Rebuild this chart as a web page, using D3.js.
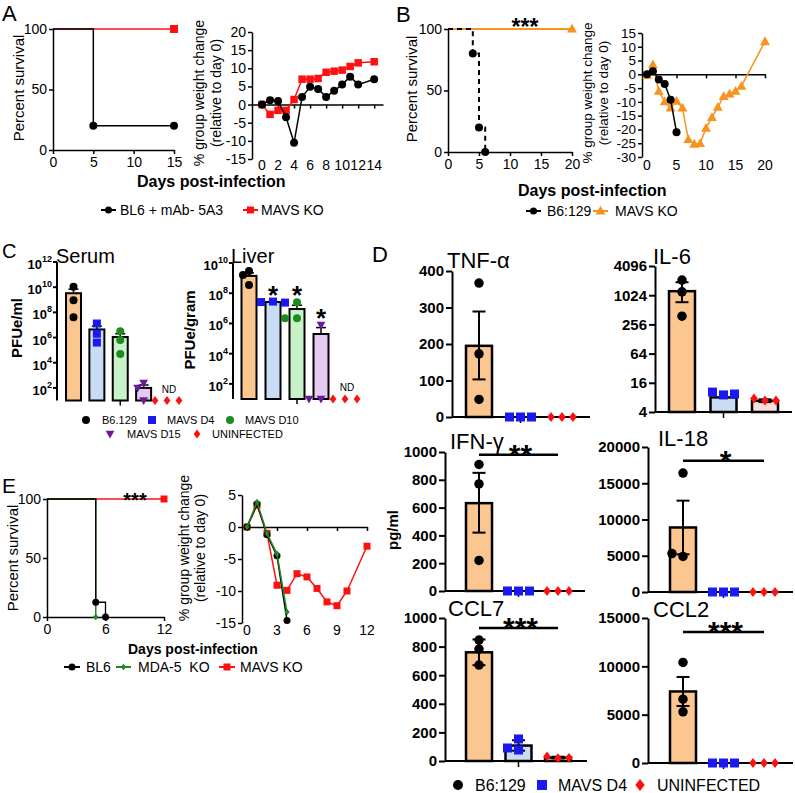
<!DOCTYPE html>
<html><head><meta charset="utf-8">
<script src="https://cdn.jsdelivr.net/npm/d3@7"></script>
<style>body{margin:0;background:#fff}svg{display:block}text{font-family:"Liberation Sans",Arial,sans-serif}</style>
</head><body><script>
// ================= DATA =================
// Panel A
const survA_bl6_days = [0, 5, 15];
const survA_bl6_pct = [100, 20, 20];
const survA_mavs_days = [0, 15];
const survA_mavs_pct = [100, 100];
const survA_ticks = [0, 5, 10, 15];
const wtA_days = [0,1,2,3,4,5,6,7,8,9,10,11,12,14];
const wtA_bl6 = [0,1.2,1.0,-3.5,-10.5,2.1,4.9,4.3,2.1,3.8,5.5,7.7,5.5,7.0];
const wtA_mavs = [0,-2.7,-1.6,-1.6,1.4,7.0,7.0,7.2,8.9,9.2,9.5,10.5,11.5,11.8];
const wtA_xticks = [0,2,4,6,8,10,12,14];
const wtA_yticks = [-15,-10,-5,0,5,10,15,20];
// Panel B
const survB_b6_days = [0, 4, 5, 6];
const survB_b6_pct = [100, 80, 20, 0];
const survB_mavs_days = [0, 20];
const survB_mavs_pct = [100, 100];
const survB_ticks = [0, 5, 10, 15, 20];
const wtB_b6_days = [0,1,2,3,4,5];
const wtB_b6 = [0,1.1,-1.9,-3.5,-9.2,-21.0];
const wtB_mavs_days = [0,1,2,3,4,5,6,7,8,9,10,11,12,13,14,15,16,20];
const wtB_mavs = [-0.3,3.5,-6.1,-9.9,-12.2,-9.7,-12.2,-23.6,-25.3,-25.1,-19.5,-15.6,-11.9,-8.0,-7.1,-6.1,-4.3,11.9];
const wtB_xticks = [0,5,10,15,20];
const wtB_yticks = [-30,-25,-20,-15,-10,-5,0,5,10,15];
// Panel C
const cGroups = ["B6.129","MAVS D4","MAVS D10","MAVS D15","UNINFECTED"];
const serumMean = [3.3e9, 4.4e6, 1.1e6, 100, null];
const serumErrHi = [7.0e9, 8.0e6, 2.0e6, 170, null];
const serumPts = [[1.1e10,9e8,4e7],[1.3e7,2e6,4e5],[3.2e6,6.3e5,5e4],[250,100,10],[10,10,10]];
const liverMean = [1.4e9, 2.6e7, 9e6, 2e5, null];
const liverErrHi = [2.2e9, 2.8e7, 1.6e7, 5.3e5, null];
const liverPts = [[3e9,1.6e9,3.5e8],[2.8e7,2.6e7,2.4e7],[2.5e7,2.2e6,2.2e6],[8e5,10,10],[10,10,10]];
const liverStars = ["", "*", "*", "*", ""];
const serumTicks = [1e2,1e4,1e6,1e8,1e10,1e12];
const liverTicks = [1e2,1e4,1e6,1e8,1e10];
// Panel D
const dGroups = ["B6:129","MAVS D4","UNINFECTED"];
const tnfMean = [195,0,0], tnfErr = [[103,289],null,null], tnfPts = [[367,173,48],[0,0,0],[0,0,0]];
const tnfTicks = [0,100,200,300,400];
const il6Mean = [1240,8,6.8], il6Err = [[734,1893],null,[6.4,7.3]], il6Pts = [[2100,1200,378],[9,10.3,9.4],[6.9,7.6,6.9]];
const il6Ticks = [4,16,64,256,1024,4096];
const ifnMean = [632,0,0], ifnErr = [[420,850],null,null], ifnPts = [[910,770,220],[0,0,0],[0,0,0]];
const ifnTicks = [0,200,400,600,800,1000];
const il18Mean = [8900,0,0], il18Err = [[5200,12600],null,null], il18Pts = [[16400,4900,5300],[0,0,0],[0,0,0]];
const il18Ticks = [0,5000,10000,15000,20000];
const ccl7Mean = [760,108,24], ccl7Err = [[670,850],[72,145],[18,30]], ccl7Pts = [[846,783,671],[154,77,91],[20,32,22]];
const ccl7Ticks = [0,200,400,600,800,1000];
const ccl2Mean = [7400,0,0], ccl2Err = [[5900,8900],null,null], ccl2Pts = [[10400,6600,5300],[0,0,0],[0,0,0]];
const ccl2Ticks = [0,5000,10000,15000];
// Panel E
const survE_bl6_days = [0, 5, 6];
const survE_bl6_pct = [100, 12.5, 0];
const survE_mda5_days = [0, 5];
const survE_mda5_pct = [100, 0];
const survE_mavs_days = [0, 12];
const survE_mavs_pct = [100, 100];
const survE_ticks = [0, 6, 12];
const wtE_mavs_days = [0,1,2,3,4,5,6,7,8,9,10,12];
const wtE_mavs = [0,3.4,-1.0,-9.1,-9.9,-7.3,-7.8,-9.6,-11.7,-12.3,-10.0,-3.0];
const wtE_ko_days = [0,1,2,3,4];
const wtE_bl6 = [0,3.6,-1.2,-4.5,-14.6];
const wtE_mda5 = [0,3.9,-1.0,-4.2,-13.3];
const wtE_xticks = [0,3,6,9,12];
const wtE_yticks = [-15,-10,-5,0,5];

// ================= COLORS =================
const RED = "#ff1010", ORANGE = "#f7931e", BLUE = "#1a1af0", GREEN = "#1f8a1f", PURPLE = "#6a1b9a", BLACK = "#000";
const cFills = ["#fbc690","#c8dcf5","#c8f3c8","#e6cbf0"];
const cColors = [BLACK, BLUE, GREEN, PURPLE, RED];
const cMarkers = ["circle","square","circle","triDown","diamond"];
const dFills = ["#fbc690","#c8dcf5","#fadcdc"];
const dColors = [BLACK, BLUE, RED];
const dMarkers = ["circle","square","diamond"];
const FONT = '"Liberation Sans", Arial, sans-serif';

const svg = d3.select("body").append("svg").attr("width",795).attr("height",793);

// ================= HELPERS =================
function styleAxis(sel, size, weight, sw) {
  sel.select(".domain").attr("stroke","#000").attr("stroke-width",sw);
  sel.selectAll(".tick line").attr("stroke","#000").attr("stroke-width",sw);
  sel.selectAll(".tick text").attr("font-size",size).attr("font-weight",weight).attr("font-family",FONT).attr("fill","#000");
}
function txt(g, x, y, s, o = {}) {
  const t = g.append("text").attr("x",x).attr("y",y).text(s)
    .attr("font-size",o.size||14).attr("font-weight",o.weight||"normal")
    .attr("text-anchor",o.anchor||"start").attr("fill",o.fill||"#000");
  if (o.rotate) t.attr("transform",`rotate(-90,${x},${y})`);
  return t;
}
function marker(g, type, cx, cy, s, color) {
  const h = s/2; let el;
  if (type === "circle") el = g.append("circle").attr("cx",cx).attr("cy",cy).attr("r",h);
  else if (type === "square") el = g.append("rect").attr("x",cx-h).attr("y",cy-h).attr("width",s).attr("height",s);
  else if (type === "triUp") el = g.append("path").attr("d",`M${cx},${cy-h*1.15}L${cx+h*1.1},${cy+h*0.8}L${cx-h*1.1},${cy+h*0.8}Z`);
  else if (type === "triDown") el = g.append("path").attr("d",`M${cx},${cy+h*1.15}L${cx+h*1.1},${cy-h*0.8}L${cx-h*1.1},${cy-h*0.8}Z`);
  else el = g.append("path").attr("d",`M${cx},${cy-h*1.1}L${cx+h*0.85},${cy}L${cx},${cy+h*1.1}L${cx-h*0.85},${cy}Z`);
  el.attr("fill",color);
  return el;
}
function legendLine(g, x1, x2, y, color, type, size) {
  g.append("line").attr("x1",x1).attr("x2",x2).attr("y1",y).attr("y2",y).attr("stroke",color).attr("stroke-width",2);
  marker(g, type, (x1+x2)/2, y, size, color);
}
function spreadX(ys, cx, step, minD) {
  const placed = [];
  return ys.map(yv => {
    for (const o of [0,-step,step,-2*step,2*step]) {
      if (placed.every(p => Math.hypot(p[0]-(cx+o), p[1]-yv) >= minD)) { placed.push([cx+o,yv]); return cx+o; }
    }
    placed.push([cx,yv]); return cx;
  });
}

function survivalPanel(cfg) {
  const g = svg.append("g");
  const x = d3.scaleLinear().domain(cfg.xDomain).range(cfg.xRange);
  const y = d3.scaleLinear().domain([0,100]).range(cfg.yRange);
  g.append("g").attr("transform",`translate(0,${cfg.yRange[0]})`)
    .call(d3.axisBottom(x).tickValues(cfg.xTicks).tickSize(4).tickSizeOuter(0).tickPadding(3))
    .call(styleAxis,14,"normal",1.5);
  g.append("g").attr("transform",`translate(${cfg.xRange[0]},0)`)
    .call(d3.axisLeft(y).tickValues([0,50,100]).tickSize(4).tickSizeOuter(0).tickPadding(2))
    .call(styleAxis,14,"normal",1.5);
  const line = d3.line().x(d=>x(d[0])).y(d=>y(d[1])).curve(d3.curveStepAfter);
  cfg.series.forEach(s => {
    const pts = s.days.map((d,i)=>[d,s.pct[i]]);
    g.append("path").attr("d",line(pts)).attr("fill","none").attr("stroke",s.color)
      .attr("stroke-width",s.sw||1.5).attr("stroke-dasharray",s.dash||null);
    pts.slice(1).forEach(p => marker(g, s.marker, x(p[0]), y(p[1]), s.size, s.color));
  });
  return g;
}

function weightPanel(cfg) {
  const g = svg.append("g");
  const x = d3.scaleLinear().domain(cfg.xDomain).range(cfg.xRange);
  const y = d3.scaleLinear().domain(cfg.yDomain).range(cfg.yRange);
  g.append("g").attr("transform",`translate(${cfg.xRange[0]},0)`)
    .call(d3.axisLeft(y).tickValues(cfg.yTicks).tickSize(4).tickSizeOuter(0).tickPadding(2).tickFormat(d=>String(d)))
    .call(styleAxis,cfg.tickSize||14,"normal",1.5);
  g.append("g").attr("transform",`translate(0,${y(0)})`)
    .call(d3.axisBottom(x).tickValues(cfg.xTicks).tickSize(4).tickSizeOuter(0).tickFormat(""))
    .call(styleAxis,14,"normal",1.5);
  cfg.xTicks.forEach(t => txt(g, x(t), cfg.yRange[0]+cfg.labelDy, String(t), {anchor:"middle", size:14}));
  const line = d3.line().x(d=>x(d[0])).y(d=>y(d[1]));
  cfg.series.forEach(s => {
    const pts = s.days.map((d,i)=>[d,s.vals[i]]);
    g.append("path").attr("d",line(pts)).attr("fill","none").attr("stroke",s.color).attr("stroke-width",1.5);
    pts.forEach(p => marker(g, s.marker, x(p[0]), y(p[1]), s.size, s.color));
  });
  return g;
}

function pfuPanel(cfg) {
  const g = svg.append("g");
  const y = d3.scaleLog().domain(cfg.yDomain).range(cfg.yRange);
  const x = d3.scalePoint().domain(cGroups).range(cfg.xRange);
  const ax = cfg.axisX, y0 = cfg.yRange[0];
  g.append("line").attr("x1",ax).attr("x2",ax).attr("y1",y0).attr("y2",cfg.yRange[1]).attr("stroke","#000").attr("stroke-width",2);
  cfg.ticks.forEach(v => {
    const ty = y(v);
    g.append("line").attr("x1",ax-4).attr("x2",ax).attr("y1",ty).attr("y2",ty).attr("stroke","#000").attr("stroke-width",2);
    const t = g.append("text").attr("x",ax-5).attr("y",ty+7).attr("text-anchor","end").attr("font-size",13).attr("font-weight","bold");
    t.append("tspan").text("10");
    t.append("tspan").attr("dy",-7).attr("font-size",9).text(String(Math.round(Math.log10(v))));
  });
  g.append("line").attr("x1",x(cGroups[2])).attr("x2",x(cGroups[2])).attr("y1",y0).attr("y2",y0+5).attr("stroke","#000").attr("stroke-width",1.5);
  cfg.mean.forEach((m,i) => {
    if (m == null) return;
    const cx = x(cGroups[i]);
    g.append("rect").attr("x",cx-7.5).attr("y",y(m)).attr("width",15).attr("height",y0-y(m))
      .attr("fill",cFills[i]).attr("stroke","#000").attr("stroke-width",2);
  });
  cfg.errHi.forEach((e,i) => {
    if (e == null) return;
    const cx = x(cGroups[i]);
    g.append("line").attr("x1",cx).attr("x2",cx).attr("y1",y(cfg.mean[i])).attr("y2",y(e)).attr("stroke","#000").attr("stroke-width",1.5);
    g.append("line").attr("x1",cx-5).attr("x2",cx+5).attr("y1",y(e)).attr("y2",y(e)).attr("stroke","#000").attr("stroke-width",1.5);
  });
  cfg.pts.forEach((arr,i) => {
    const cx = x(cGroups[i]);
    const ys = arr.map(v => y(v));
    const xs = spreadX(ys, cx, 6, 7);
    ys.forEach((yy,j) => marker(g, cMarkers[i], xs[j], yy, 8, cColors[i]));
  });
  txt(g, x(cGroups[4])+2, y0-8, "ND", {anchor:"middle", size:10});
  if (cfg.stars) cfg.stars.forEach((s,i) => {
    if (!s) return;
    const top = Math.max(...cfg.pts[i]);
    txt(g, x(cGroups[i]), y(top)+2, s, {anchor:"middle", size:26, weight:"bold"});
  });
  txt(g, cfg.titleX, cfg.titleY, cfg.title, {size:20});
  txt(g, cfg.labelX, cfg.labelY, cfg.label, {size:15, weight:"bold", anchor:"middle", rotate:true});
  return g;
}

function cytoPanel(cfg) {
  const g = svg.append("g");
  const y = cfg.log ? d3.scaleLog().base(2).domain(cfg.yDomain).range(cfg.yRange)
                    : d3.scaleLinear().domain(cfg.yDomain).range(cfg.yRange);
  const x = d3.scalePoint().domain(dGroups).range(cfg.xRange);
  const y0 = cfg.yRange[0];
  g.append("g").attr("transform",`translate(${cfg.axisX},0)`)
    .call(d3.axisLeft(y).tickValues(cfg.ticks).tickSize(6).tickSizeOuter(0).tickPadding(2).tickFormat(d=>String(d)))
    .call(styleAxis,15,"bold",2);
  g.append("line").attr("x1",cfg.axisX).attr("x2",cfg.xEnd).attr("y1",y0).attr("y2",y0).attr("stroke","#000").attr("stroke-width",2);
  g.append("line").attr("x1",x(dGroups[1])).attr("x2",x(dGroups[1])).attr("y1",y0).attr("y2",y0+6).attr("stroke","#000").attr("stroke-width",1.5);
  cfg.mean.forEach((m,i) => {
    const cx = x(dGroups[i]);
    g.append("rect").attr("x",cx-13).attr("y",y(m)).attr("width",26).attr("height",Math.max(0,y0-y(m)))
      .attr("fill",dFills[i]).attr("stroke","#000").attr("stroke-width",2.5);
  });
  cfg.err.forEach((e,i) => {
    if (!e) return;
    const cx = x(dGroups[i]);
    g.append("line").attr("x1",cx).attr("x2",cx).attr("y1",y(e[0])).attr("y2",y(e[1])).attr("stroke","#000").attr("stroke-width",2);
    e.forEach(v => g.append("line").attr("x1",cx-6.5).attr("x2",cx+6.5).attr("y1",y(v)).attr("y2",y(v)).attr("stroke","#000").attr("stroke-width",2));
  });
  cfg.pts.forEach((arr,i) => {
    const cx = x(dGroups[i]);
    const ys = arr.map(v => y(v));
    const xs = spreadX(ys, cx, 11, 9);
    ys.forEach((yy,j) => marker(g, dMarkers[i], xs[j], yy, i===0 ? 9.5 : 9, dColors[i]));
  });
  txt(g, cfg.titleX, cfg.titleY, cfg.title, {size:22});
  if (cfg.sig) {
    const sy = y(cfg.sig.at);
    g.append("line").attr("x1",x(dGroups[0])).attr("x2",x(dGroups[2])).attr("y1",sy).attr("y2",sy).attr("stroke","#000").attr("stroke-width",2.5);
    txt(g, (x(dGroups[0])+x(dGroups[2]))/2 + 2, sy + 10, cfg.sig.text, {anchor:"middle", size:30, weight:"bold"});
  }
  return g;
}

// ================= PANEL A =================
txt(svg, 2, 21, "A", {size:22});
survivalPanel({xDomain:[0,15], xRange:[53,174], yRange:[150,29], xTicks:survA_ticks,
  series:[
    {days:survA_mavs_days, pct:survA_mavs_pct, color:RED, marker:"square", size:8},
    {days:survA_bl6_days, pct:survA_bl6_pct, color:BLACK, marker:"circle", size:8}
  ]});
txt(svg, 24, 88, "Percent survival", {size:15, anchor:"middle", rotate:true});
weightPanel({xDomain:[-1.25,15.1], xRange:[252,383], yDomain:[-15,20], yRange:[159,32], yTicks:wtA_yticks, xTicks:wtA_xticks, labelDy:11,
  series:[
    {days:wtA_days, vals:wtA_mavs, color:RED, marker:"square", size:7.5},
    {days:wtA_days, vals:wtA_bl6, color:BLACK, marker:"circle", size:8}
  ]});
txt(svg, 204, 93, "% group weight change", {size:14, anchor:"middle", rotate:true});
txt(svg, 221, 93, "(relative to day 0)", {size:14, anchor:"middle", rotate:true});
txt(svg, 137, 187, "Days post-infection", {size:16, weight:"bold"});
legendLine(svg, 101, 116, 210, BLACK, "circle", 7);
txt(svg, 120, 215, "BL6 + mAb- 5A3", {size:14});
legendLine(svg, 243, 258, 210, RED, "square", 7);
txt(svg, 261, 215, "MAVS KO", {size:14});

// ================= PANEL B =================
txt(svg, 396, 22, "B", {size:22});
survivalPanel({xDomain:[0,20], xRange:[448,572], yRange:[152,29], xTicks:survB_ticks,
  series:[
    {days:survB_mavs_days, pct:survB_mavs_pct, color:ORANGE, marker:"triUp", size:9, sw:2},
    {days:survB_b6_days, pct:survB_b6_pct, color:BLACK, marker:"circle", size:8, dash:"5,4", sw:2}
  ]});
txt(svg, 525, 35, "***", {size:23, weight:"bold", anchor:"middle"});
txt(svg, 417, 89, "Percent survival", {size:15, anchor:"middle", rotate:true});
weightPanel({xDomain:[-0.85,20], xRange:[642,765], yDomain:[-30,15], yRange:[157,33], yTicks:wtB_yticks, xTicks:wtB_xticks, labelDy:13, tickSize:13.5,
  series:[
    {days:wtB_mavs_days, vals:wtB_mavs, color:ORANGE, marker:"triUp", size:9},
    {days:wtB_b6_days, vals:wtB_b6, color:BLACK, marker:"circle", size:8}
  ]});
txt(svg, 592, 93, "% group weight change", {size:13.5, anchor:"middle", rotate:true});
txt(svg, 608, 93, "(relative to day 0)", {size:13.5, anchor:"middle", rotate:true});
txt(svg, 518, 196, "Days post-infection", {size:16, weight:"bold"});
legendLine(svg, 526, 541, 211, BLACK, "circle", 7);
txt(svg, 547, 216, "B6:129", {size:14});
legendLine(svg, 593, 608, 211, ORANGE, "triUp", 9);
txt(svg, 615, 216, "MAVS KO", {size:14});

// ================= PANEL C =================
txt(svg, 2, 258, "C", {size:20});
pfuPanel({yDomain:[10,1e12], yRange:[400.5,262], xRange:[73.5,167], axisX:57, ticks:serumTicks,
  mean:serumMean, errHi:serumErrHi, pts:serumPts, title:"Serum", titleX:56, titleY:263,
  label:"PFUe/ml", labelX:22, labelY:328});
pfuPanel({yDomain:[10,1e10], yRange:[399,263], xRange:[249,345], axisX:233, ticks:liverTicks,
  mean:liverMean, errHi:liverErrHi, pts:liverPts, stars:liverStars, title:"Liver", titleX:231, titleY:263,
  label:"PFUe/gram", labelX:195, labelY:330});
const legC = [[86,420,0,102],[152,420,1,167],[230,420,2,245],[110,434,3,127],[197,434,4,212]];
legC.forEach(([mx,my,i,tx]) => { marker(svg, cMarkers[i], mx, my, 8, cColors[i]); txt(svg, tx, my+4, cGroups[i], {size:11}); });

// ================= PANEL D =================
txt(svg, 372, 262, "D", {size:22});
cytoPanel({title:"TNF-\u03b1", titleX:447, titleY:268, yDomain:[0,400], yRange:[417,271], ticks:tnfTicks, axisX:452, xRange:[479,562], xEnd:590,
  mean:tnfMean, err:tnfErr, pts:tnfPts});
cytoPanel({title:"IL-6", titleX:653, titleY:264, log:true, yDomain:[4,4096], yRange:[412,266], ticks:il6Ticks, axisX:655, xRange:[682,765], xEnd:792,
  mean:il6Mean, err:il6Err, pts:il6Pts});
cytoPanel({title:"IFN-\u03b3", titleX:450, titleY:449, yDomain:[0,1000], yRange:[591,452], ticks:ifnTicks, axisX:445, xRange:[479,558], xEnd:585,
  mean:ifnMean, err:ifnErr, pts:ifnPts, sig:{at:980, text:"**"}});
cytoPanel({title:"IL-18", titleX:658, titleY:446, yDomain:[0,20000], yRange:[592,447], ticks:il18Ticks, axisX:648, xRange:[683,764], xEnd:793,
  mean:il18Mean, err:il18Err, pts:il18Pts, sig:{at:18100, text:"*"}});
cytoPanel({title:"CCL7", titleX:448, titleY:616, yDomain:[0,1000], yRange:[761,618], ticks:ccl7Ticks, axisX:445, xRange:[479,558], xEnd:587,
  mean:ccl7Mean, err:ccl7Err, pts:ccl7Pts, sig:{at:930, text:"***"}});
cytoPanel({title:"CCL2", titleX:653, titleY:617, yDomain:[0,15000], yRange:[763,618], ticks:ccl2Ticks, axisX:648, xRange:[683,764], xEnd:793,
  mean:ccl2Mean, err:ccl2Err, pts:ccl2Pts, sig:{at:13550, text:"***"}});
txt(svg, 398, 530, "pg/ml", {size:15, weight:"bold", anchor:"middle", rotate:true});
const legD = [[458,0,475],[542,1,558],[640,2,657]];
legD.forEach(([mx,i,tx]) => { marker(svg, dMarkers[i], mx, 785, i===2?11:10, dColors[i]); txt(svg, tx, 791, dGroups[i], {size:16}); });

// ================= PANEL E =================
txt(svg, 2, 493, "E", {size:21});
survivalPanel({xDomain:[0,12], xRange:[47,164], yRange:[617,499], xTicks:survE_ticks,
  series:[
    {days:survE_mavs_days, pct:survE_mavs_pct, color:RED, marker:"square", size:7},
    {days:survE_mda5_days, pct:survE_mda5_pct, color:GREEN, marker:"diamond", size:6},
    {days:survE_bl6_days, pct:survE_bl6_pct, color:BLACK, marker:"circle", size:7, sw:1.3}
  ]});
txt(svg, 135, 507, "***", {size:20, weight:"bold", anchor:"middle"});
txt(svg, 18, 558, "Percent survival", {size:15, anchor:"middle", rotate:true});
weightPanel({xDomain:[-0.5,12], xRange:[242,367], yDomain:[-15,5], yRange:[623,495], yTicks:wtE_yticks, xTicks:wtE_xticks, labelDy:12,
  series:[
    {days:wtE_mavs_days, vals:wtE_mavs, color:RED, marker:"square", size:7},
    {days:wtE_ko_days, vals:wtE_bl6, color:BLACK, marker:"circle", size:7},
    {days:wtE_ko_days, vals:wtE_mda5, color:GREEN, marker:"diamond", size:6}
  ]});
txt(svg, 189, 548, "% group weight change", {size:14, anchor:"middle", rotate:true});
txt(svg, 205, 548, "(relative to day 0)", {size:14, anchor:"middle", rotate:true});
txt(svg, 128, 654, "Days post-infection", {size:14, weight:"bold"});
legendLine(svg, 64, 80, 667, BLACK, "circle", 7);
txt(svg, 86, 672, "BL6", {size:14});
legendLine(svg, 116, 131, 667, GREEN, "diamond", 6);
txt(svg, 138, 672, "MDA-5\u00a0\u00a0KO", {size:14});
legendLine(svg, 219, 235, 667, RED, "square", 7);
txt(svg, 240, 672, "MAVS KO", {size:14});
</script></body></html>
